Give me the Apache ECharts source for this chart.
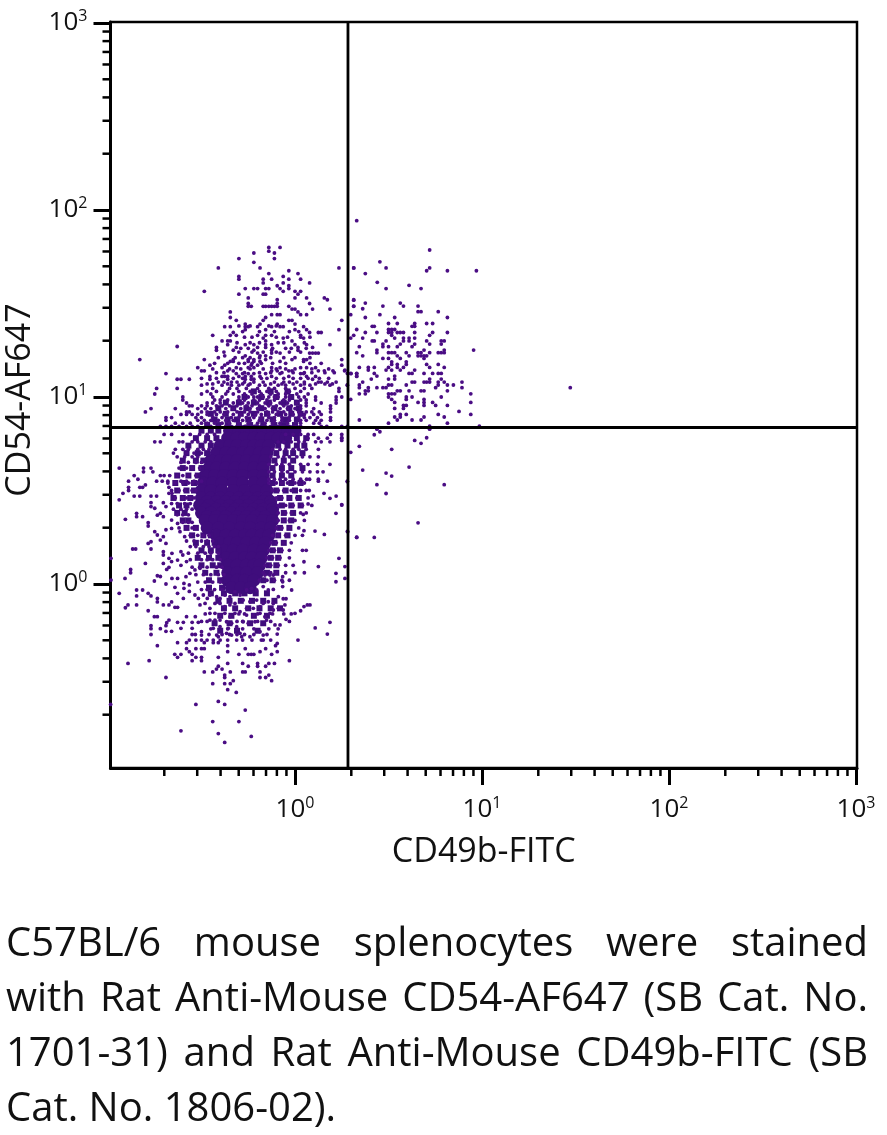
<!DOCTYPE html>
<html><head><meta charset="utf-8">
<style>html,body{margin:0;padding:0;background:#fff}#c{width:887px;height:1135px}</style>
<script src="https://cdn.jsdelivr.net/npm/echarts@6/dist/echarts.min.js"></script>
</head><body><div id="c"></div>
<script>
// All event values as log10(fluorescence).
// Rows: [log10 CD54, log10 CD49b, log10 CD49b, ...]
const upperRows = [
[1.80,-.14,-.08],[1.78,-.14],[1.77,-.22,-.11],[1.74,-.11,-.30],[1.72,-.22],[1.69,-.187,-.41,.235,.314],
[1.675,-.033],[1.66,-.14,.016],[1.645,-.063,-.30],[1.63,-.30,-.17,-.125,-.033,.03],[1.61,-.17,-.063,.078],
[1.595,-.095,-.033],[1.58,-.08,-.033,-.266,-.22,-.20,-.157,-.14],[1.565,-.063,-.485,0,.03],[1.55,-.157,-.17,.016,-.30],
[1.53,-.25,0,.062,.157],[1.52,-.095,.173,.314],[1.50,-.25,.078,-.095],[1.485,-.234,-.25,-.14,-.125,-.11,-.157,-.17,-.095,-.033,.314],
[1.47,-.016,0,.094,.187],[1.455,-.346,.016],[1.44,.03,-.125,-.095,-.08,.062],[1.425,-.346,-.157],[1.41,-.17,-.033,-.016,-.314,.25],
[1.39,-.187,0,-.266,-.095],[1.376,-.25,-.266,-.08,-.063,-.376,-.346,-.20,-.125,.046],[1.36,-.266,-.157,.062,0,.235],
[1.345,-.33,.078,.125,.14],[1.33,-.346,-.314,-.20,-.157,-.125,-.44,.03,.314],[1.315,-.17,-.063,.046],
[1.30,-.157,-.016,-.39,-.36,-.346],[1.28,-.36,-.266,-.22,-.157,-.125,0,.062,.187],[1.265,-.42,-.314,-.20,-.157,.016,.094],
[1.25,-.42,-.33,-.22,-.125,.016],[1.27,-.63],[1.235,-.20,-.125,-.08,.078,.094,.11,.125],[1.22,-.376,-.266,-.187,-.157],
[1.20,-.83,-.485,-.25,-.22,-.157,-.33,-.016,.046,.062,.25],[1.19,-.25,-.33,-.346,-.22,-.187,-.08,.046],
[1.17,-.455,-.20,-.234,-.376,.25],[1.157,-.52,-.39,-.314,-.125,-.08,-.22,-.25,.03,.062,.11],
[1.14,-.50,-.485,-.36,-.33,-.125,-.095,-.033,-.016,.125,.157,.203,.265],[1.125,-.69,-.314,-.28,-.25,-.22,-.157,-.08,.03,.046,.30,.33],
[1.11,-.455,-.39,-.376,-.36,-.30,-.266,-.234,-.187,-.125,-.033,.062,.11,.33],[1.095,-.63,-.61,-.565,-.455,-.36,-.266,-.234,-.22,.094],
[1.08,-.41,-.38,-.34,-.31,-.27,-.22,-.17,-.11,-.06,-.03,.01,.05,.125,.14,.173,.22],[1.063,-.50,-.39,-.34,-.30,-.25,-.19,-.16,-.09,-.05,.03,.08,.187,.28],
[1.046,-.74,-.63,-.44,-.35,-.31,-.26,-.20,-.14,-.11,-.05,.0,.05,.09,.235],[1.03,-.47,-.42,-.36,-.30,-.24,-.19,-.15,-.10,-.03,.03,.235],
[1.016,-.75,-.50,-.45,-.37,-.33,-.27,-.23,-.18,-.13,-.09,-.05,.01,.07],[1.0,-.60,-.44,-.39,-.30,-.25,-.22,-.20,-.17,-.14,-.11,-.09,-.05,-.03,.02,.05,.11,.22],
[.984,-.60,-.43,-.40,-.36,-.30,-.27,-.22,-.19,-.15,-.11,-.06,-.03,.03,.06,.11,.22],
[.968,-.58,-.47,-.44,-.40,-.33,-.28,-.25,-.20,-.16,-.13,-.08,-.04,.01,.06,.14,.22],
[.953,-.565,-.55,-.50,-.47,-.42,-.39,-.35,-.31,-.26,-.23,-.19,-.14,-.10,-.06,-.02,.03,.06,.19],
[.938,-.64,-.77,-.52,-.48,-.45,-.37,-.33,-.29,-.24,-.20,-.16,-.12,-.08,-.04,.0,.03,.10,.19],
[.92,-.80,-.58,-.565,-.50,-.47,-.43,-.40,-.36,-.31,-.27,-.24,-.20,-.15,-.12,-.09,-.06,-.02,.02,.06,.09,.13,.19],
[.907,-.61,-.58,-.55,-.52,-.47,-.42,-.38,-.33,-.29,-.25,-.21,-.18,-.14,-.10,-.05,-.01,.03,.05,.10,.14],
[.89,-.69,-.66,-.53,-.50,-.44,-.39,-.34,-.30,-.26,-.22,-.18,-.14,-.11,-.07,-.03,.02,.05,.08,.12,.19],
[.875,-.69,-.52,-.485,-.45,-.41,-.37,-.33,-.28,-.24,-.19,-.15,-.11,-.07,-.03,.03,.06,.11,.14,.19],
[.86,-.64,-.60,-.56,-.50,-.47,-.43,-.39,-.35,-.30,-.25,-.20,-.16,-.12,-.08,-.04,.03,.10,.13],
[.843,-.72,-.69,-.66,-.62,-.58,-.55,-.52,-.45,-.41,-.37,.0,.03,.14,.17,.25,.28]
];
const upperExtraRows = [
[1.38,-.30,-.24,-.14,-.10],[1.35,-.28,-.19,-.11,-.03,.02],[1.32,-.27,-.23,-.10,-.04,.03,.08],[1.29,-.31,-.24,-.19,-.09,-.06,.05],
[1.26,-.29,-.25,-.12,-.05,-.02,.06],[1.24,-.38,-.30,-.23,-.17,-.10,-.03,.03],[1.21,-.41,-.32,-.28,-.24,-.19,-.13,-.06,.0,.08],
[1.18,-.43,-.36,-.30,-.27,-.23,-.18,-.12,-.05,.08,.14],[1.15,-.44,-.35,-.29,-.24,-.17,-.10,-.05,.0,.09,.18],
[1.13,-.42,-.38,-.27,-.19,-.13,-.07,-.01,.05,.09,.16,.21],[1.10,-.50,-.42,-.33,-.28,-.18,-.15,-.10,-.06,-.01,.03,.07,.13,.18],
[1.07,-.47,-.44,-.36,-.28,-.24,-.13,-.07,-.01,.05,.11,.16,.20]
];
const nearCoreRows = [
[.80,-.70,-.66,-.60,-.56,-.51,-.47,-.43,-.05,-.01,.03,.07,.10,.19,.25],[.78,.07,.125,.173,.25],
[.76,-.75,-.72,-.62,-.60,-.55,-.52,-.48,-.45,-.09,-.06,-.02,.02,.05,.11,.14,.187],
[.72,-.64,-.60,-.57,-.52,-.49,-.46,-.12,-.08,-.05,-.01,.02,.06,.125],[.70,-.65,-.58,-.54,-.50],
[.68,-.63,-.59,-.55,-.52,-.13,-.09,-.06,-.03,.01,.04,.08,.125],[.65,-.61,-.57,-.53,-.50],
[.64,-.14,-.10,-.07,-.03,.03,.07,.12,.187],[.62,-.94,-.81,-.77,-.62,-.58,-.55,-.51],
[.60,-.81,-.76,-.14,-.11,-.07,-.04,0,.04,.08,.12,.15],[.58,-.86,-.72,-.70,-.67,-.63,-.60,-.57,-.53],
[.56,-.84,-.14,-.11,-.08,-.05,-.01,.03,.062,.078,.125],[.55,-.89,-.74,-.71,-.68,-.61,-.58,-.54,-.50,.125,.173,.28],
[.54,-.68,-.64,-.60,-.57,-.55,-.52,-.14,-.10,-.07,-.04,0,.02,.05],[.50,-.66,-.62,-.59,-.55,-.53,-.12,-.09,-.06,-.02,.03,.06],
[.46,-.64,-.60,-.58,-.56,-.54,-.10,-.07,-.03,.01,.07],[.43,-.66,-.63,-.59,-.56],[.42,-.09,-.05,-.01,.04,.09],
[.40,-.65,-.61,-.58,-.55],[.38,-.09,-.05,-.02,.03,.06],[.37,-.63,-.60,-.57],[.34,-.09,-.06,-.03,.0,.05],
[.33,-.60,-.57,-.55],[.30,-.62,-.58,-.55,-.53,-.10,-.07,-.03,.02],[.26,-.56,-.52,-.49,-.46,-.12,-.09,-.05,.0,.04],
[.23,-.58,-.54,-.50,-.47,-.44],[.22,-.13,-.10,-.06,-.02],[.20,-.56,-.53,-.49,-.46,-.43,-.41],
[.18,-.14,-.11,-.07,-.03,.04,.06],[.165,-.57,-.52,-.48,-.45,-.41],[.14,-.15,-.12,-.08,-.03],[.13,-.56,-.50,-.47,-.44,-.40],
[.10,-.16,-.13,-.09,-.05,-.01],[.09,-.55,-.51,-.47,-.42,-.39],[.06,-.17,-.13,-.10,-.05,.0,.05],[.05,-.53,-.49,-.45,-.41,-.38],
[.02,-.19,-.15,-.11,-.07,-.03],[.01,-.52,-.48,-.44,-.40],[-.03,-.50,-.47,-.43,-.39],
[-.16,-.48,-.30,-.27,-.20,-.12,-.06,-.02],[-.20,-.50,-.47,-.31,-.28,-.20,-.13,-.03],[-.24,-.45,-.36,-.31,-.28,-.22,-.14,-.09],
[-.27,-.46,-.39,-.35,-.31,-.27,-.22,-.15],[-.30,-.47,-.40,-.36,-.28,-.23,-.18,-.13]
];
// Flat pairs: log10 CD49b, log10 CD54, ...
const leftFringe = [-.94,.45,-.92,.485,-.89,.517,-.89,.50,-.86,.47,-.83,.47,-.83,.517,-.815,.517,-.80,.53,-.77,.47,-.74,.47,-.674,.517,-.674,.485,-.658,.485,-.77,.435,-.77,.414,-.75,.405,-.704,.435,-.69,.414,-.847,.378,-.847,.36,-.815,.36,-.907,.346,-.736,.368,-.72,.378,-.704,.36,-.66,.342,-.785,.328,-.785,.31,-.75,.28,-.77,.226,-.785,.217,-.736,.262,-.72,.235,-.704,.253,-.69,.217,-.69,.29,-.66,.297,-.628,.324,-.615,.28,-.59,.253,-.868,.187,-.852,.187,-.77,.187,-.704,.173,-.704,.155,-.674,.137,-.658,.164,-.61,.173,-.60,.155,-.80,.11,-.704,.11,-.66,.12,-.628,.128,-.879,.078,-.879,.06,-.674,.089,-.686,.078,-.61,.10,-.58,.12,-.736,.044,-.72,.04,-.909,.03,-.984,.137,-.984,.021,-.69,0,-.752,.016,-.658,.03,-.628,.03,-.583,.039,-.562,.057,-.535,.075,-.508,.084,-.594,.003,-.594,-.023,-.565,-.005,-.565,-.04,-.642,-.018,-.628,-.05,-.597,-.077,-.94,-.05,-.847,-.032,-.815,-.032,-.847,-.064,-.785,-.05,-.77,-.064,-.736,-.077,-.736,-.096,-.704,-.112,-.66,-.096,-.674,-.112,-.642,-.125,-.628,-.125,-.847,-.112,-.893,-.112,-.907,-.127,-.785,-.143,-.752,-.175,-.736,-.175,-.674,-.193,-.686,-.207,-.69,-.223,-.77,-.223,-.77,-.239,-.72,-.239,-.69,-.253,-.66,-.253,-.77,-.27,-.628,-.205,-.61,-.237,-.597,-.205,-.58,-.175,-.533,-.175,-.55,-.205,-.517,-.205,-.55,-.237,-.55,-.27,-.50,-.255,-.50,-.273,-.533,-.27];
const lowerCentre = [-.535,-.059,-.517,-.077,-.49,-.059,-.469,-.077,-.455,-.059,-.419,-.068,-.401,-.077,-.375,-.059,-.348,-.068,-.321,-.041,-.294,-.059,-.259,-.032,-.232,-.023,-.205,-.032,-.17,-.014,-.143,-.032,-.116,-.029,-.089,-.068,-.063,-.079,-.048,-.079,-.066,-.014,-.066,.012,-.066,.039,-.161,.048,-.134,.048,-.116,.048,-.508,-.112,-.481,-.104,-.455,-.13,-.428,-.104,-.401,-.104,-.375,-.121,-.348,-.112,-.321,-.104,-.277,-.086,-.241,-.095,-.205,-.086,-.17,-.104,-.143,-.095,-.116,-.104,-.089,-.13,-.054,-.112,-.063,-.139,-.187,-.121,-.223,-.13,-.259,-.13,-.294,-.148,-.455,-.157,-.428,-.157,-.401,-.166,-.375,-.157,-.348,-.175,-.321,-.157,-.259,-.166,-.223,-.166,-.187,-.157,-.161,-.175,-.134,-.157,-.116,-.139,-.455,-.193,-.428,-.193,-.401,-.193,-.366,-.202,-.339,-.21,-.277,-.202,-.25,-.21,-.214,-.202,-.152,-.193,-.107,-.219,-.08,-.219,-.048,-.189,0,-.157,.03,-.143,.048,-.121,.066,-.112,.08,-.112,-.437,-.237,-.401,-.228,-.357,-.237,-.312,-.228,-.294,-.264,-.339,-.273,-.366,-.264,-.419,-.273,-.437,-.30,-.41,-.282,-.312,-.30,-.285,-.282,-.241,-.282,-.187,-.255,-.17,-.273,-.17,-.30];
const lowerSparse = [-.376,-.847,-.234,-.815,-.41,-.80,-.61,-.785,-.44,-.736,-.30,-.736,-.266,-.674,-.53,-.644,-.376,-.644,-.41,-.628,-.986,-.644,-.314,-.58,-.36,-.565,-.44,-.533,-.376,-.533,-.346,-.533,-.33,-.517,-.69,-.50,-.187,-.50,-.157,-.50,-.14,-.487,-.125,-.517,-.44,-.47,-.42,-.455,-.41,-.44,-.39,-.455,-.376,-.487,-.376,-.50,-.485,-.47,-.346,-.47,-.28,-.47,-.266,-.47,-.187,-.47,-.25,-.44,-.20,-.425,-.20,-.44,-.157,-.44,-.14,-.425,-.11,-.425,-.36,-.425,-.28,-.425,-.41,-.392,-.03,-.41,-.78,-.41,-.893,-.425,-.50,-.392,-.50,-.41,-.55,-.41,-.53,-.392,-.643,-.376,-.628,-.392,-.61,-.376,-.55,-.376,-.565,-.362,-.58,-.346,-.53,-.346,-.50,-.346,-.485,-.346,-.36,-.362,-.30,-.376,-.25,-.376,-.234,-.376,-.22,-.376,-.187,-.362,-.157,-.346,-.125,-.376,-.095,-.362,-.266,-.346,-.736,-.33,-.628,-.314,-.58,-.314,-.565,-.30,-.53,-.30,-.50,-.30,-.485,-.314,-.437,-.314,-.41,-.314,-.36,-.33,-.104,-.33,-.095,-.318,-.095,-.268,.173,-.268,.108,-.235,.187,-.205,.016,-.30,-.018,-.032];
const rightFringe = [.22,.47,.25,.424,.187,.458,.155,.485,.076,.50,.098,.47,.07,.428,.044,.372,.219,.378,.107,.283,.157,.265,.282,.28,.33,.25,.048,.285,.235,.137,.267,.093,.219,.057,.267,.03,.219,.012,.125,.093,.048,.119];
const gateCluster = [.33,1.943,.72,1.786,.454,1.723,.487,1.69,.314,1.69,.72,1.69,.704,1.675,.815,1.675,.97,1.675,.376,1.66,.44,1.613,.487,1.58,.61,1.597,.674,1.58,.314,1.518,.314,1.486,.376,1.502,.362,1.472,.47,1.486,.563,1.502,.58,1.486,.658,1.486,.658,1.456,.674,1.456,.766,1.456,.298,1.44,.454,1.44,.376,1.425,.533,1.425,.815,1.425,.5,1.393,.547,1.393,.704,1.393,.736,1.393,.64,1.393,.626,1.378,.64,1.378,.413,1.378,.424,1.378,.33,1.361,.5,1.361,.517,1.361,.533,1.361,.376,1.345,.438,1.345,.5,1.345,.517,1.345,.547,1.345,.563,1.345,.58,1.345,.64,1.345,.736,1.345,.72,1.33,.815,1.345,.517,1.33,.533,1.315,.298,1.315,.362,1.315,.58,1.315,.61,1.315,.64,1.315,.58,1.30,.61,1.30,.413,1.30,.424,1.30,.704,1.30,.72,1.283,.782,1.30,.798,1.30,.782,1.283,.344,1.269,.47,1.283,.47,1.269,.487,1.30,.5,1.269,.563,1.283,.547,1.269,.64,1.283,.626,1.269,.438,1.251,.438,1.237,.33,1.237,.362,1.22,.5,1.237,.517,1.237,.533,1.237,.547,1.22,.563,1.206,.595,1.237,.61,1.22,.658,1.237,.658,1.22,.674,1.237,.674,1.22,.69,1.251,.69,1.22,.69,1.206,.704,1.22,.72,1.237,.766,1.237,.782,1.237,.798,1.251,.798,1.237,.955,1.251,.47,1.206,.5,1.206,.517,1.188,.5,1.158,.517,1.174,.547,1.174,.547,1.158,.563,1.144,.58,1.158,.595,1.188,.595,1.174,.704,1.174,.72,1.158,.766,1.174,.798,1.158,.344,1.158,.392,1.158,.392,1.144,.424,1.158,.424,1.126,.438,1.112,.408,1.096,.487,1.144,.517,1.144,.533,1.112,.533,1.096,.61,1.126,.626,1.126,.64,1.144,.69,1.126,.736,1.126,.766,1.126,.782,1.126,.33,1.126,.33,1.112,.298,1.126,.267,1.144,.28,1.126,.344,1.064,.362,1.08,.344,1.05,.28,1.064,.5,1.096,.5,1.064,.517,1.064,.438,1.05,.47,1.05,.487,1.05,.392,1.05,.376,1.033,.392,1.033,.376,1.017,.626,1.08,.64,1.08,.595,1.064,.69,1.08,.704,1.08,.72,1.096,.72,1.08,.766,1.064,.782,1.096,.752,1.05,.766,1.08,.798,1.08,.815,1.064,.847,1.064,.893,1.08,.893,1.05,.815,1.033,.94,1.017,.344,1.017,.298,.987,.25,1.0,.5,1.017,.5,1.0,.517,1.017,.517,.987,.533,1.017,.547,1.033,.563,1.033,.61,1.033,.674,1.033,.69,1.033,.626,1.0,.595,1.0,.595,.987,.782,1.0,.94,.971,.533,.971,.658,.971,.69,.987,.69,.971,.69,.955,.736,.971,.752,.955,.815,.955,.58,.955,.595,.955,.58,.939,.533,.939,.563,.907,.563,.893,.547,.877,.533,.893,.595,.907,.5,.86,.626,.877,.674,.877,.69,.893,.766,.907,.798,.893,.877,.923,.94,.907,.344,.877,.815,.86,.72,.844,.986,.844,.72,.828,.454,.814,.438,.828,.424,.798,.704,.782,.64,.768,.674,.752,.344,.736,.517,.72,.298,.704,.25,.782,.25,.768,.61,.625,.362,.609,.487,.593,.517,.577,.28,.547,.438,.531,.798,.531,.487,.484,.25,.422,.658,.327,.28,.281,.33,.249,.424,.249,1.472,1.05];
// Blotchy ring around the middle, where several events touch
const patchRows = [
[1.03,-.22,-.13,-.04],[1.0,-.27,-.18,-.10,-.02],[.97,-.37,-.30,-.22,-.14,-.06,.01],[.94,-.41,-.33,-.26,-.18,-.11,-.03,.02],
[.91,-.45,-.37,-.29,-.22,-.15,-.08,-.02,.03],[.88,-.43,-.36,-.31,-.25,-.18,-.12,-.05,.01],[.85,-.47,-.41,-.36,-.30,-.24,-.17,-.11,-.06,.0],
[.82,-.50,-.45,-.41],[.78,-.53,-.47,-.42],[.74,-.57,-.50,-.45],[.70,-.58,-.52,-.47],[.66,-.60,-.53,-.49],[.62,-.60,-.55,-.50],[.58,-.63,-.57,-.52],
[.54,-.64,-.59,-.54],[.50,-.63,-.58,-.54],[.46,-.65,-.60,-.56],[.42,-.62,-.58],[.38,-.63,-.59],[.34,-.60,-.57],[.30,-.58,-.53],[.26,-.55,-.49,-.45],
[.22,-.53,-.47,-.43],[.18,-.50,-.45,-.41],[.14,-.52,-.46,-.41],[.10,-.50,-.44,-.40],[.06,-.48,-.42],[.02,-.46,-.40],[-.02,-.46,-.39],
[.78,-.04,.01,.06],[.74,-.09,-.04,.01,.05],[.70,-.10,-.05,-.01,.04],[.66,-.11,-.06,-.01],[.62,-.12,-.07,-.02,.04],[.58,-.12,-.07,-.02],
[.54,-.12,-.07,-.02,.03],[.50,-.10,-.05,.0],[.46,-.08,-.03,.02],[.42,-.07,-.02,.03],[.38,-.06,-.01],[.34,-.06,-.02],[.30,-.08,-.03],[.26,-.09,-.04],
[.22,-.11,-.06],[.18,-.12,-.08],[.14,-.13,-.09],[.10,-.14,-.10],[.06,-.15,-.10],[.02,-.17,-.12],
[-.05,-.45,-.38,-.32,-.27,-.21,-.15],[-.09,-.41,-.35,-.29,-.23,-.17,-.11],[-.13,-.38,-.32,-.25,-.19,-.13,-.08],[-.17,-.40,-.34,-.22,-.15],[-.21,-.43,-.35,-.24,-.17],[-.25,-.40,-.31,-.20]
];
// Saturated middle of the population, where overlapping events merge into a solid patch
const coreRows = [
[.82,-.35,-.30,-.26,-.21,-.17,-.12,-.08,-.04,.0],[.78,-.36,-.31,-.27,-.22,-.18,-.13,-.09,-.05],[.74,-.40,-.35,-.31,-.26,-.22,-.18,-.14],
[.70,-.42,-.37,-.33,-.28,-.24,-.19,-.15],[.66,-.45,-.40,-.36,-.31,-.26,-.21,-.16],[.62,-.46,-.42,-.37,-.32,-.27,-.22,-.17],
[.58,-.48,-.43,-.38,-.33,-.28,-.22,-.17],[.54,-.49,-.44,-.39,-.33,-.28,-.22,-.17],[.50,-.50,-.45,-.39,-.33,-.27,-.21,-.15],
[.46,-.50,-.45,-.40,-.35,-.30,-.25,-.20,-.15],[.44,-.47,-.42,-.37,-.32,-.27,-.22,-.17,-.13],[.42,-.51,-.46,-.40,-.35,-.30,-.25,-.19,-.13],[.40,-.48,-.42,-.37,-.32,-.27,-.22,-.17,-.12],
[.38,-.50,-.45,-.39,-.34,-.29,-.24,-.18,-.12],[.36,-.47,-.42,-.37,-.31,-.26,-.21,-.16],
[.34,-.48,-.43,-.38,-.33,-.28,-.23,-.17,-.12],[.30,-.47,-.41,-.35,-.29,-.24,-.18,-.13],[.26,-.42,-.37,-.32,-.27,-.23,-.18,-.14],
[.22,-.40,-.35,-.31,-.26,-.21,-.16],[.18,-.38,-.33,-.28,-.22,-.17],[.14,-.37,-.32,-.27,-.23,-.18],[.10,-.36,-.31,-.26,-.22,-.19],
[.06,-.36,-.31,-.26,-.20],[.02,-.36,-.31,-.27,-.22],[-.02,-.34,-.29,-.24]
];
const xMajorTicks = [1,10,100,1000];
const yMajorTicks = [1,10,100,1000];
const xMinorTicks = [.2,.3,.4,.5,.6,.7,.8,.9,2,3,4,5,6,7,8,9,20,30,40,50,60,70,80,90,200,300,400,500,600,700,800,900];
const yMinorTicks = [.2,.3,.4,.5,.6,.7,.8,.9,2,3,4,5,6,7,8,9,20,30,40,50,60,70,80,90,200,300,400,500,600,700,800,900];
const gateCD49b = 1.92;
const gateCD54 = 6.87;
const xTitle = 'CD49b-FITC';
const yTitle = 'CD54-AF647';
const captionLines = [
 ['C57BL/6 mouse splenocytes were stained', true],
 ['with Rat Anti-Mouse CD54-AF647 (SB Cat. No.', true],
 ['1701-31) and Rat Anti-Mouse CD49b-FITC (SB', true],
 ['Cat. No. 1806-02).', false]
];

const FONT = '"Open Sans"';
const xMin = Math.pow(10,-.9866), xMax = Math.pow(10,3.0053);
const yMin = Math.pow(10,-.984), yMax = Math.pow(10,3.0053);
const fromRows = rows => rows.flatMap(r => r.slice(1).map(x => [Math.pow(10,x), Math.pow(10,r[0])]));
const fromPairs = a => { const o=[]; for(let i=0;i<a.length;i+=2) o.push([Math.pow(10,a[i]),Math.pow(10,a[i+1])]); return o; };
const events = [...fromRows(upperRows),...fromRows(upperExtraRows),...fromRows(nearCoreRows),...fromPairs(leftFringe),...fromPairs(lowerCentre),...fromPairs(lowerSparse),...fromPairs(rightFringe),...fromPairs(gateCluster)];
const core = fromRows(coreRows);
const patches = fromRows(patchRows);

const supLabel = v => '{b|10}{s|' + Math.round(Math.log10(v)) + '}';
const labelRich = {b:{fontFamily:FONT,fontSize:26,color:'#111',lineHeight:30},s:{fontFamily:FONT,fontSize:16,color:'#111',verticalAlign:'top',lineHeight:30,padding:[0,0,10,0]}};

// caption, justified word by word
const mctx = document.createElement('canvas').getContext('2d');
const capSize = 40, capFont = capSize+'px '+FONT;
mctx.font = capFont;
const capLeft = 6, capRight = 868, capBase = [965,1020,1075,1130];
const capEls = [];
captionLines.forEach((l,i)=>{
  const words = l[0].split(' ');
  const widths = words.map(w=>mctx.measureText(w).width);
  const total = widths.reduce((a,b)=>a+b,0);
  const gap = l[1] ? (capRight-capLeft-total)/(words.length-1) : mctx.measureText(' ').width;
  let x = capLeft;
  words.forEach((w,j)=>{
    capEls.push({type:'text',x:x,y:capBase[i],silent:true,style:{text:w,font:capFont,fill:'#111',textAlign:'left',textVerticalAlign:'bottom'}});
    x += widths[j]+gap;
  });
});

const tickSeries = (vals, isX, len) => ({
  type:'custom', silent:true, z:6, clip:false, animation:false,
  data: vals.map(v=> isX ? [v,yMin] : [xMin,v]),
  renderItem:(p,api)=>{
    const c = api.coord([api.value(0),api.value(1)]);
    return {type:'line',shape: isX ? {x1:c[0],y1:c[1],x2:c[0],y2:c[1]+len} : {x1:c[0],y1:c[1],x2:c[0]-len,y2:c[1]},style:{stroke:'#000',lineWidth:2.5}};
  }
});

const chart = echarts.init(document.getElementById('c'),null,{renderer:'canvas'});
chart.setOption({
  animation:false, backgroundColor:'#fff',
  grid:{left:110.5,right:30,top:22,bottom:367,show:true,borderColor:'#000',borderWidth:2.5,backgroundColor:'#fff',outerBoundsMode:'none',containLabel:false},
  xAxis:{type:'log',logBase:10,min:xMin,max:xMax,splitLine:{show:false},minorTick:{show:false},
    axisLine:{show:true,onZero:false,lineStyle:{color:'#000',width:3}},
    axisTick:{show:true,length:17,lineStyle:{color:'#000',width:3},customValues:xMajorTicks},
    axisLabel:{show:true,customValues:xMajorTicks,margin:27,formatter:supLabel,rich:labelRich,hideOverlap:false},
    name:xTitle,nameLocation:'middle',nameGap:67,nameTextStyle:{fontFamily:FONT,fontSize:34,color:'#111'}},
  yAxis:{type:'log',logBase:10,min:yMin,max:yMax,splitLine:{show:false},minorTick:{show:false},
    axisLine:{show:true,onZero:false,lineStyle:{color:'#000',width:3}},
    axisTick:{show:true,length:17,lineStyle:{color:'#000',width:3},customValues:yMajorTicks},
    axisLabel:{show:true,customValues:yMajorTicks,margin:23,formatter:supLabel,rich:labelRich,hideOverlap:false},
    name:yTitle,nameLocation:'middle',nameGap:72,nameRotate:90,nameTextStyle:{fontFamily:FONT,fontSize:34,color:'#111',padding:[0,10,0,0]}},
  series:[
    {type:'scatter',name:'core',data:core,symbol:'circle',symbolSize:13,itemStyle:{color:'#3f0d7c',opacity:1},silent:true,z:2},
    {type:'scatter',name:'patches',data:patches,symbol:'rect',symbolSize:6,itemStyle:{color:'#3f0d7c',opacity:1},silent:true,z:2},
    {type:'scatter',name:'events',data:events,symbol:'circle',symbolSize:3.8,itemStyle:{color:'#4a0d84',opacity:1},silent:true,z:3},
    {type:'line',name:'CD49b gate',data:[[gateCD49b,yMin],[gateCD49b,yMax]],showSymbol:false,silent:true,z:5,lineStyle:{color:'#000',width:2.8}},
    {type:'line',name:'CD54 gate',data:[[xMin,gateCD54],[xMax,gateCD54]],showSymbol:false,silent:true,z:5,lineStyle:{color:'#000',width:2.8}},
    tickSeries(xMinorTicks,true,8),
    tickSeries(yMinorTicks,false,8)
  ],
  graphic:capEls
});
</script></body></html>
